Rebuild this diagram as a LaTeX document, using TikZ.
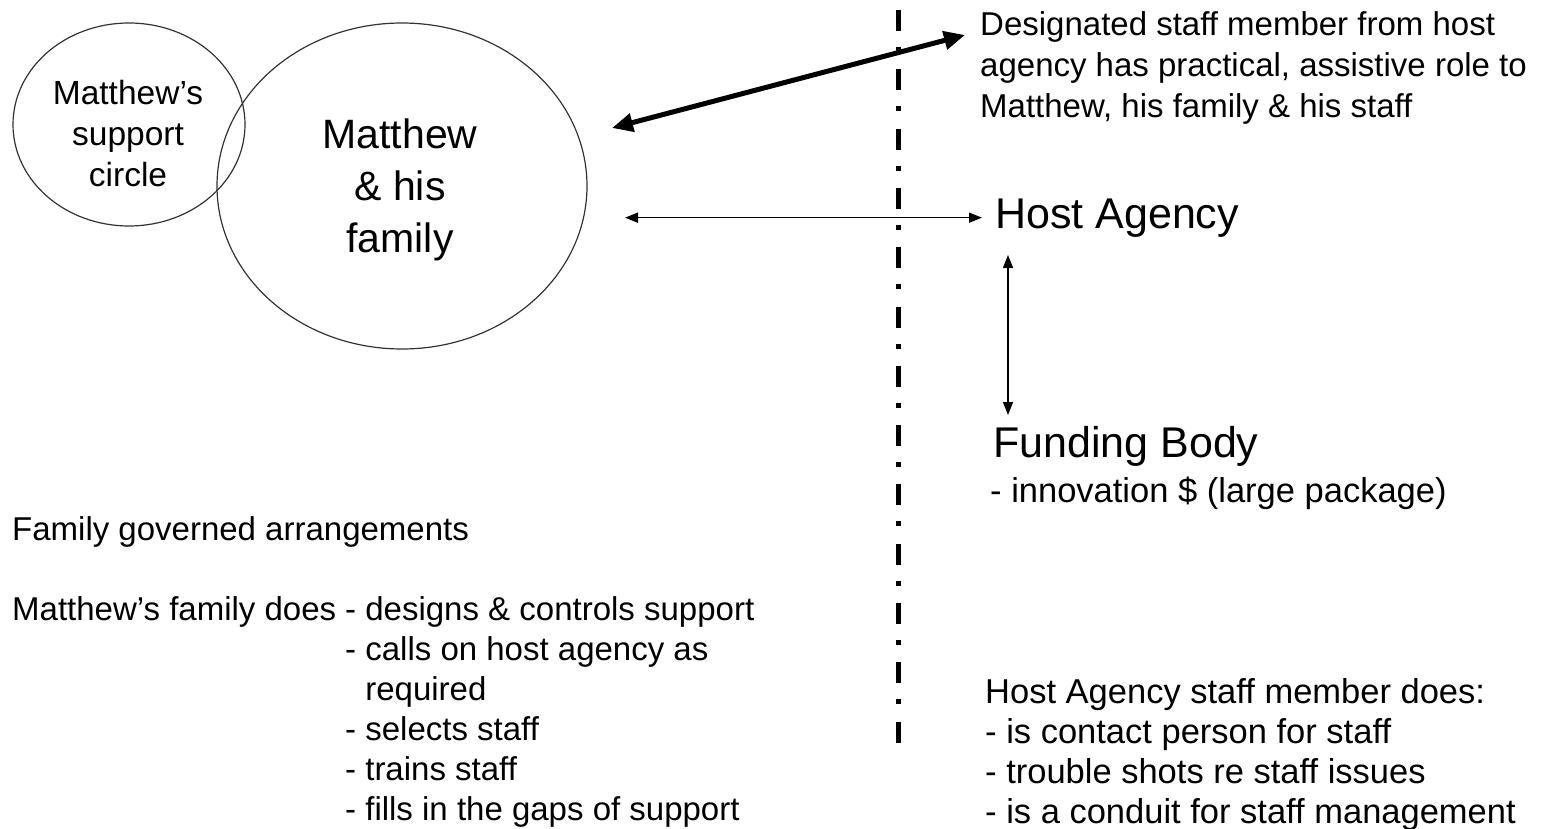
\documentclass[tikz,border=0pt]{standalone}
\usepackage{fontspec}
\setmainfont{Liberation Sans}
\usetikzlibrary{arrows.meta,shapes.geometric}

\begin{document}
\begin{tikzpicture}[
    x=1pt, y=-1pt,
    ring/.style={ellipse, draw=black!80, line width=1.2pt, inner sep=0pt},
    ringtxt/.style={align=center, inner sep=0pt, anchor=north},
    bigtxt/.style={font=\fontsize{41}{52}\selectfont},
    smalltxt/.style={font=\fontsize{33.5}{41}\selectfont},
    body/.style={font=\fontsize{33}{40}\selectfont, align=left,
                inner sep=0pt, anchor=north west},
    wide/.style={font=\fontsize{34.5}{40}\selectfont},
    line/.style={font=\fontsize{33}{40}\selectfont, inner sep=0pt,
                anchor=base west},
    heading/.style={font=\fontsize{43}{50}\selectfont, inner sep=0pt,
                anchor=base west},
    arr/.style={{Triangle[length=13pt,width=10pt]}-{Triangle[length=13pt,width=10pt]},
                line width=1.5pt},
    thickarr/.style={{Triangle[length=21pt,width=18pt]}-{Triangle[length=21pt,width=18pt]},
                line width=5pt},
    divider/.style={line width=5pt, dash pattern=on 21pt off 16pt on 5pt off 17.3pt},
]
\useasboundingbox (0,0) rectangle (1541,829);

% --- Circles ---
\node[ring, minimum width=232pt, minimum height=203pt] (support) at (129,124.5) {};
\node[ring, minimum width=370pt, minimum height=326pt] (family) at (402,186) {};
\node[ringtxt, smalltxt] (supportlbl) at (128,80) {Matthew's\\support\\circle};
\node[ringtxt, bigtxt] (familylbl) at (400,119) {Matthew\\\& his\\family};

% --- Divider ---
\coordinate (divtop) at (898,10);
\coordinate (divbot) at (898,743);
\draw[divider] (divtop) -- (divbot);

% --- Right side ---
\node[body, font=\fontsize{33}{41}\selectfont] (role) at (980,11)
  {Designated staff member from host\\
  agency has practical, assistive role to\\Matthew, his family \& his staff};
\node[heading] (host) at (995,228) {Host Agency};
\node[heading] (funding) at (993,457) {Funding Body};
\node[line, wide] (innov) at (990,502) {- innovation \$ (large package)};
\node[body, wide] (hostdoes) at (985,678) {Host Agency staff member does:\\
  - is contact person for staff\\- trouble shots re staff issues\\
  - is a conduit for staff management};

% --- Left side ---
\node[line] (governed) at (12,540) {Family governed arrangements};
\node[line] (famdoes) at (12,620) {Matthew's family does};
\node[body] (famlist) at (345,596) {- designs \& controls support\\
  - calls on host agency as\\\phantom{- }required\\- selects staff\\
  - trains staff\\- fills in the gaps of support};

% --- Arrows ---
\coordinate (famtip) at (612,128);
\coordinate (roletip) at (965,35);
\draw[thickarr] (famtip) -- (roletip);
\coordinate (famside) at (625,0);
\draw[arr, shorten >=13pt] (famside |- host.west) -- (host.west);
\coordinate (hostlow) at (1008,255);
\coordinate (fundhigh) at (1008,415);
\draw[arr] (hostlow) -- (fundhigh);

\end{tikzpicture}
\end{document}
